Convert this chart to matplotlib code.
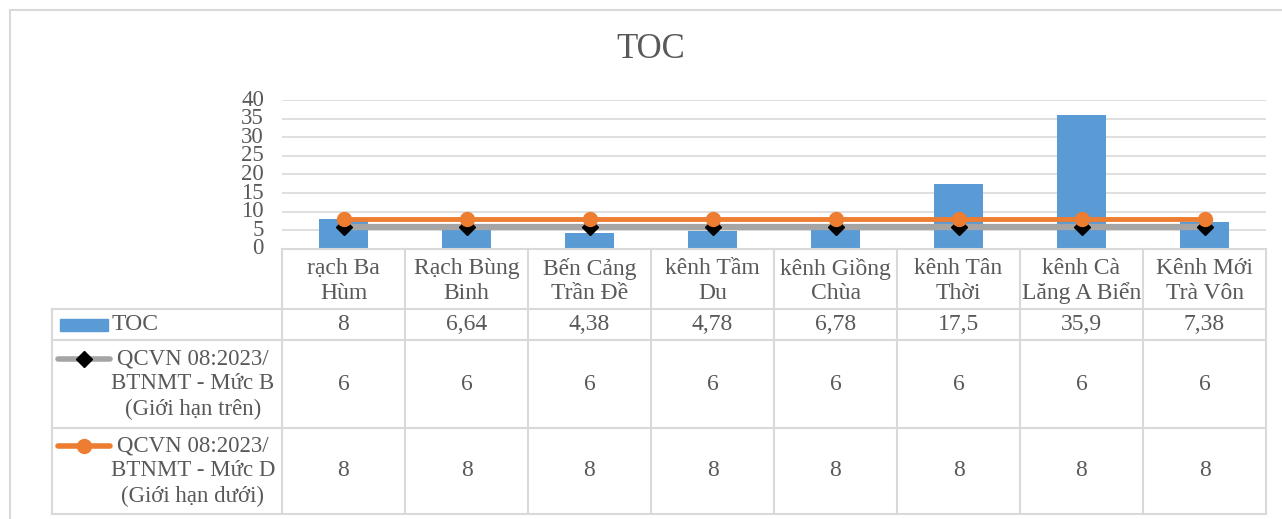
import numpy as np
import matplotlib
matplotlib.use("Agg")
import matplotlib.pyplot as plt
from matplotlib.lines import Line2D
from matplotlib.patches import Rectangle
from matplotlib.transforms import blended_transform_factory

# --- データ ---
categories = ["rạch Ba\nHùm", "Rạch Bùng\nBinh", "Bến Cảng\nTrần Đề", "kênh Tầm\nDu",
              "kênh Giồng\nChùa", "kênh Tân\nThời", "kênh Cà\nLăng A Biển", "Kênh Mới\nTrà Vôn"]
toc_values = [8, 6.64, 4.38, 4.78, 6.78, 17.5, 35.9, 7.38]
limit_b = [6, 6, 6, 6, 6, 6, 6, 6]
limit_d = [8, 8, 8, 8, 8, 8, 8, 8]
series_names = ["TOC",
                "QCVN 08:2023/\nBTNMT - Mức B\n(Giới hạn trên)",
                "QCVN 08:2023/\nBTNMT - Mức D\n(Giới hạn dưới)"]
y_ticks = [0, 5, 10, 15, 20, 25, 30, 35, 40]

# --- 書式 ---
W, H = 1282, 519
BLUE = "#5B9BD5"
ORANGE = "#ED7D31"
GREY = "#A5A5A5"
TXT = "#595959"
GRID = "#D9D9D9"
plt.rcParams['font.family'] = ['Liberation Serif', 'DejaVu Serif']

def fx(x):
    return x / W

def fy(y):
    return 1 - y / H

def fmt(v):
    return f"{v:g}".replace(".", ",")

fig = plt.figure(figsize=(W / 100, H / 100), dpi=100)
fig.patch.set_facecolor("white")

# 外枠
fig.add_artist(Line2D([fx(10), fx(10)], [fy(10), fy(H)], color=GRID, lw=1.5))
fig.add_artist(Line2D([fx(10), fx(W)], [fy(10), fy(10)], color=GRID, lw=1.5))

# プロット領域
ax_l, ax_r, ax_t, ax_b = 282, 1266, 100, 249
ax = fig.add_axes([fx(ax_l), fy(ax_b), fx(ax_r - ax_l), (ax_b - ax_t) / H])
x = np.arange(len(categories))
ax.bar(x, toc_values, width=0.4, color=BLUE, zorder=2)
ax.plot(x, limit_b, color=GREY, lw=4.5, marker="D", ms=8, mfc="black", mec="black", zorder=3)
ax.plot(x, limit_d, color=ORANGE, lw=3.5, marker="o", ms=10, mfc=ORANGE, mec=ORANGE, zorder=4)
ax.set_xlim(-0.5, len(categories) - 0.5)
ax.set_ylim(0, 40)
ax.set_yticks(y_ticks)
ax.set_xticks([])
ax.yaxis.grid(True, color=GRID, lw=1.2)
ax.set_axisbelow(True)
for s in ax.spines.values():
    s.set_visible(False)
ax.tick_params(axis="y", length=0, pad=13, labelsize=16.5, labelcolor=TXT)
for lab in ax.get_yticklabels():
    lab.set_verticalalignment("center")

fig.text(fx(651), fy(50), "TOC", ha="center", va="center", fontsize=25, color=TXT)

# データテーブル
tr = blended_transform_factory(ax.transData, fig.transFigure)
row_y = [249, 309, 340, 428, 514]
leg_left = 52
n = len(categories)

def hline(y, x0px):
    fig.add_artist(Line2D([fx(x0px), fx(ax_r)], [fy(y), fy(y)], color=GRID, lw=1.5))

hline(row_y[0], ax_l)
for y in row_y[1:]:
    hline(y, leg_left)
for k in range(n + 1):
    fig.add_artist(Line2D([k - 0.5, k - 0.5], [fy(row_y[0]), fy(row_y[-1])],
                          transform=tr, color=GRID, lw=1.5))
fig.add_artist(Line2D([fx(leg_left), fx(leg_left)], [fy(row_y[1]), fy(row_y[-1])],
                      color=GRID, lw=1.5))

tsize = 17
for i, cat in enumerate(categories):
    fig.text(i, fy((row_y[0] + row_y[1]) / 2 + 2), cat, transform=tr, ha="center", va="center",
             fontsize=tsize, color=TXT, linespacing=1.22)
rows = [toc_values, limit_b, limit_d]
for r, vals in enumerate(rows):
    yc = fy((row_y[r + 1] + row_y[r + 2]) / 2)
    for i, v in enumerate(vals):
        fig.text(i, yc, fmt(v), transform=tr, ha="center", va="center", fontsize=tsize, color=TXT)

# 凡例キー
fig.add_artist(Rectangle((fx(60), fy(331)), fx(48), 12 / H, color=BLUE))
fig.text(fx(112), fy(324), series_names[0], ha="left", va="center", fontsize=tsize, color=TXT)

for r, (col, mk, mfc, ms) in enumerate([(GREY, "D", "black", 8), (ORANGE, "o", ORANGE, 10)]):
    yc = (row_y[r + 2] + row_y[r + 3]) / 2
    yk = yc - 25
    fig.add_artist(Line2D([fx(58), fx(110)], [fy(yk), fy(yk)], color=col, lw=4,
                          solid_capstyle="round"))
    fig.add_artist(Line2D([fx(84)], [fy(yk)], marker=mk, ms=ms, mfc=mfc, mec=mfc, lw=0))
    fig.text(fx(193), fy(yc), series_names[r + 1], ha="center", va="center",
             fontsize=16.5, color=TXT, linespacing=1.25)

fig.savefig("out.png", dpi=100, facecolor="white")
